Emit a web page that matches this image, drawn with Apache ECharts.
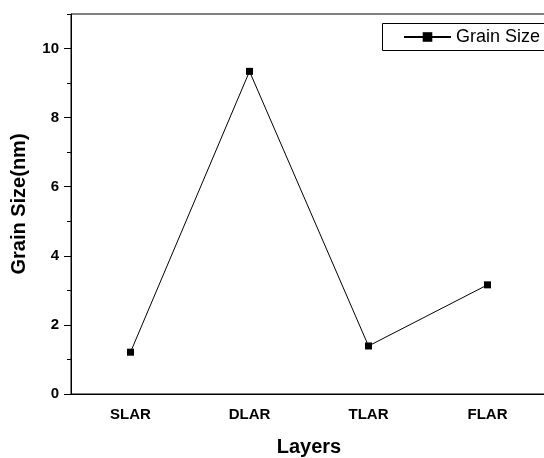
<!DOCTYPE html>
<html>
<head>
<meta charset="utf-8">
<script src="https://cdn.jsdelivr.net/npm/echarts@6/dist/echarts.min.js"></script>
<style>
html,body{margin:0;padding:0;background:#fff;}
#chart{width:544px;height:458px;}
</style>
</head>
<body>
<div id="chart"></div>
<script>
const categories = ['SLAR', 'DLAR', 'TLAR', 'FLAR'];
const grainSize = [1.21, 9.34, 1.39, 3.16];
const seriesName = 'Grain Size';
const yMajorTicks = [0, 2, 4, 6, 8, 10];

const FONT = '"Liberation Sans", Arial, sans-serif';
const chart = echarts.init(document.getElementById('chart'), null, {renderer: 'canvas'});
chart.setOption({
  animation: false,
  backgroundColor: '#fff',
  grid: {
    left: 71, top: 14, width: 476, height: 380,
    outerBoundsMode: 'none', containLabel: false,
    show: true, borderColor: '#000', borderWidth: 1, backgroundColor: 'transparent'
  },
  graphic: [
    {
      type: 'rect', z: 10,
      shape: {x: 382.5, y: 23.5, width: 200, height: 27},
      style: {fill: 'none', stroke: '#000', lineWidth: 1}
    }
  ],
  legend: {
    left: 403, top: 28,
    padding: 0,
    itemWidth: 47, itemHeight: 12,
    textStyle: {fontFamily: FONT, fontSize: 18, color: '#000'},
    data: [seriesName]
  },
  xAxis: [
    {
      type: 'category', data: categories, boundaryGap: true,
      name: 'Layers', nameLocation: 'middle', nameGap: 43,
      nameTextStyle: {fontFamily: FONT, fontSize: 20, fontWeight: 'bold', color: '#000'},
      axisLine: {lineStyle: {color: '#000', width: 1}},
      axisTick: {alignWithLabel: true, length: 7, lineStyle: {color: '#000'}},
      axisLabel: {fontFamily: FONT, fontSize: 15, fontWeight: 'bold', color: '#000', margin: 13},
      splitLine: {show: false}
    },
    {
      type: 'category', data: categories, boundaryGap: true, position: 'bottom',
      axisLine: {show: false},
      axisTick: {length: 5, lineStyle: {color: '#000'}},
      axisLabel: {show: false},
      splitLine: {show: false}
    }
  ],
  yAxis: [
    {
      type: 'value', min: 0, max: 11, interval: 1, position: 'left',
      name: 'Grain Size(nm)', nameLocation: 'middle', nameGap: 42, nameRotate: 90,
      nameTextStyle: {fontFamily: FONT, fontSize: 20, fontWeight: 'bold', color: '#000'},
      axisLine: {show: true, lineStyle: {color: '#000', width: 1}},
      axisTick: {show: true, length: 4, lineStyle: {color: '#000'}},
      axisLabel: {
        fontFamily: FONT, fontSize: 15, fontWeight: 'bold', color: '#000', margin: 12,
        formatter: function (v) { return yMajorTicks.indexOf(v) >= 0 ? String(v) : ''; }
      },
      splitLine: {show: false}
    },
    {
      type: 'value', min: 0, max: 11, position: 'left',
      axisLine: {show: false},
      axisTick: {show: true, length: 7, customValues: yMajorTicks, lineStyle: {color: '#000'}},
      axisLabel: {show: false},
      splitLine: {show: false}
    }
  ],
  series: [
    {
      name: seriesName, type: 'line', data: grainSize,
      xAxisIndex: 0, yAxisIndex: 0,
      symbol: 'rect', symbolSize: 7,
      lineStyle: {color: '#000', width: 1},
      itemStyle: {color: '#000'}
    }
  ]
});
</script>
</body>
</html>
